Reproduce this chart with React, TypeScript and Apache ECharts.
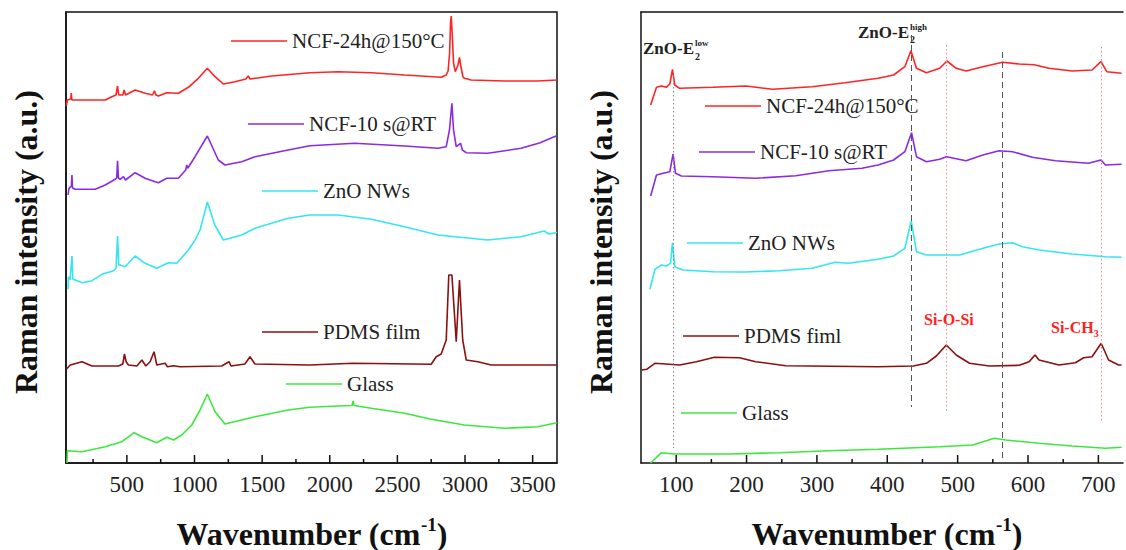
import React, { useEffect, useRef } from "react";
import * as echarts from "echarts";

// ---------- DATA (wavenumber, intensity a.u.) ----------
const L_NCF24: [number, number][] = [
  [52, 357], [60, 363], [85, 364], [89, 370], [93, 363], [200, 363], [340, 363], [389, 366.3], [420, 368],
  [431, 377], [440, 368], [470, 368], [480, 373], [490, 368], [561, 373], [635, 369.7], [690, 368], [704, 372.3],
  [715, 368], [733, 367], [795, 370.3], [881, 369.7], [955, 375.7], [1028, 384.7], [1095, 394.7], [1152, 386.3],
  [1213, 379], [1299, 381.3], [1380, 384], [1397, 387], [1410, 384], [1570, 387], [1853, 390.3], [2061, 391.3],
  [2308, 390.3], [2553, 388], [2824, 385.7], [2861, 388], [2875, 392], [2886, 410], [2893, 440], [2898, 447],
  [2905, 430], [2915, 400], [2928, 391.3], [2948, 398], [2959, 405.7], [2970, 396], [2985, 386], [2996, 384.7],
  [3045, 383], [3291, 382], [3537, 382], [3680, 383],
];
const L_NCF10: [number, number][] = [
  [65, 268], [72, 274.7], [90, 277], [94, 288], [98, 275], [119, 273.7], [266, 273.7], [340, 278], [414, 283.7],
  [425, 285], [431, 302.3], [438, 285], [451, 283.7], [475, 286.3], [490, 283], [561, 290.3], [635, 284.7],
  [709, 281.3], [733, 280.3], [795, 284.7], [881, 284.7], [935, 293], [943, 298], [950, 294.7], [1004, 306.3],
  [1095, 327], [1176, 303], [1225, 298], [1349, 301.3], [1447, 306.3], [1692, 313], [1853, 317.3], [2184, 319.7],
  [2553, 317], [2799, 314.7], [2861, 316.3], [2885, 333], [2903, 359.7], [2915, 333], [2935, 316.3], [2967, 319.7],
  [2980, 313], [3009, 310.3], [3168, 309.7], [3414, 314.7], [3550, 320], [3673, 327],
];
const L_ZNO: [number, number][] = [
  [65, 173.7], [68, 186.3], [80, 183], [94, 207], [100, 184], [119, 183], [168, 180.3], [242, 182.3], [316, 188.7],
  [401, 192.3], [420, 195], [431, 227], [440, 198], [451, 198], [487, 196.3], [561, 207], [635, 199.7], [721, 194.7],
  [807, 200.3], [869, 199.7], [955, 213], [1004, 223], [1041, 233], [1095, 261], [1150, 238], [1213, 223],
  [1349, 228], [1447, 234.7], [1692, 244.7], [1853, 248], [2061, 248], [2308, 243.7], [2553, 236.3], [2799, 228],
  [3168, 223], [3414, 226.3], [3586, 232], [3620, 229], [3680, 230.5],
];
const L_PDMS: [number, number][] = [
  [52, 93.7], [82, 98], [168, 101.3], [242, 97], [438, 97], [470, 99], [482, 109], [495, 101], [512, 98], [574, 97],
  [611, 103], [640, 97], [672, 101.3], [701, 111.3], [721, 98], [783, 99.7], [800, 96.3], [844, 97.3], [893, 96.3],
  [1201, 97], [1255, 101.3], [1270, 97], [1373, 99], [1410, 106.3], [1447, 99], [1853, 98], [2172, 99.7],
  [2750, 98.7], [2787, 106.3], [2824, 109], [2861, 123], [2880, 188], [2903, 188], [2935, 121.3], [2959, 183],
  [2983, 123], [3009, 103], [3095, 101.3], [3193, 98], [3680, 98],
];
const L_GLASS: [number, number][] = [
  [57, 0], [60, 12.3], [168, 11.3], [340, 16.3], [463, 21.3], [554, 30.3], [611, 26.3], [721, 20.3], [795, 25.7],
  [844, 23], [906, 28], [980, 38], [1041, 53], [1095, 69], [1152, 51.3], [1225, 39], [1447, 46.3], [1692, 53],
  [1853, 55.7], [2061, 57], [2165, 57.5], [2172, 62], [2180, 57.5], [2308, 54.7], [2553, 49.7], [2750, 43.7],
  [2996, 38], [3291, 34.7], [3537, 36.3], [3680, 40.3],
];

const R_NCF24: [number, number][] = [
  [63.7, 358], [72, 375.7], [79, 377], [86, 375.7], [91, 379], [94.7, 393.7], [98, 378], [105, 374.7], [152, 375.7],
  [199, 377], [237, 373.7], [293, 376.3], [340, 380.3], [387, 384.7], [409, 388], [425, 396.3], [433.6, 412.3],
  [441.5, 394.7], [455.6, 390.3], [474.5, 394.7], [484.8, 402], [498, 394.7], [512, 392], [535.7, 396.3],
  [564, 400.7], [587.5, 399], [608.7, 398.3], [629.8, 394.7], [662.7, 392], [691, 393], [703.7, 401.3],
  [712, 391.3], [733, 389.7],
];
const R_NCF10: [number, number][] = [
  [63.7, 267], [72, 288], [81.5, 289.7], [91, 291.3], [95.6, 309], [99, 289.7], [107.5, 287], [152, 286.3],
  [213, 284.7], [270, 287.3], [317, 292.3], [364, 294.7], [387, 298], [409, 303], [425, 311.3], [434.5, 330.3],
  [441.5, 306.3], [455.6, 301.3], [474.5, 303.7], [484, 306.3], [512, 302.3], [535.7, 308], [559, 312.3],
  [578, 311.3], [606, 305.7], [639, 302.3], [686, 299.7], [703.7, 303], [710, 298], [733, 298.7],
];
const R_ZNO: [number, number][] = [
  [62.7, 173.7], [69.8, 193.7], [79, 198], [86, 197], [92, 199.7], [94.7, 220.3], [98, 196.3], [109.7, 193],
  [152, 191.3], [199, 191], [246, 192.3], [293, 194.7], [326, 200.7], [345, 199.7], [387, 203.7], [409, 207],
  [425, 214.7], [434, 242.3], [441.5, 211.3], [455.6, 208], [502.8, 208], [531, 213.7], [559, 219], [578, 220.3],
  [592, 216.3], [615.7, 213], [662.7, 209], [710, 206.3], [733, 205.7],
];
const R_PDMS: [number, number][] = [
  [51, 93], [58, 93.7], [69.8, 99.7], [105, 98], [128.6, 101.3], [154.5, 105.7], [190, 105.3], [213, 101.3],
  [255.7, 97.3], [387, 96.3], [437, 97], [455.6, 99.7], [469.7, 107], [483.9, 118], [498, 108], [516.9, 99.7],
  [545, 97], [587.5, 97.7], [601.6, 101.3], [610, 108], [615.7, 103], [644, 98], [667.4, 100.3], [679, 105.3],
  [691, 106.3], [704, 119.7], [714.5, 103], [728.7, 98], [733, 98],
];
const R_GLASS: [number, number][] = [
  [63.7, 0], [79, 10.3], [97, 9], [175.6, 9], [246, 10.3], [317, 12.3], [387, 13.7], [474.5, 16.3], [521.5, 18],
  [552, 24.7], [568.6, 23], [615.7, 19.7], [662.7, 17], [710, 14.7], [733, 15.7],
];

// reference lines on the right panel
const REF_X = [95.6, 434, 484, 564, 704];
const REF_TOP = [388, 428, 418, 411, 416];
const REF_BOTTOM = [15, 56, 50, 0, 41];
const REF_KIND = ["grayDot", "dash", "pinkDot", "dash", "pinkDot"];

// axis ticks
const L_MAJOR = [500, 1000, 1500, 2000, 2500, 3000, 3500];
const L_MINOR = [250, 750, 1250, 1750, 2250, 2750, 3250];
const R_MAJOR = [100, 200, 300, 400, 500, 600, 700];
const R_MINOR = [150, 250, 350, 450, 550, 650];

const NAMES = ["NCF-24h@150°C", "NCF-10 s@RT", "ZnO NWs", "PDMS film", "Glass"];
const R_NAMES = ["NCF-24h@150°C", "NCF-10 s@RT", "ZnO NWs", "PDMS fiml", "Glass"];
const COLORS = ["#ff2424", "#8a2be2", "#33e6f0", "#8b1010", "#3de83d"];

const FAM = '"Liberation Serif", "Times New Roman", serif';

function measure(text: string, font: string): number {
  const ctx = document.createElement("canvas").getContext("2d");
  if (!ctx) return text.length * 8;
  ctx.font = font;
  return ctx.measureText(text).width;
}

export default function App() {
  const ref = useRef<HTMLDivElement>(null);
  useEffect(() => {
    if (!ref.current) return;
    const chart = echarts.init(ref.current, undefined, { renderer: "svg" });

    const lineSeries = (name: string, data: [number, number][], color: string, xi: number, yi: number, extra: any = {}) => ({
      type: "line",
      name,
      data,
      xAxisIndex: xi,
      yAxisIndex: yi,
      symbol: "none",
      showSymbol: false,
      silent: true,
      lineStyle: { color, width: 1.6 },
      itemStyle: { color },
      z: 3,
      ...extra,
    });

    const tickSeries = (vals: number[], len: number, xi: number, yi: number) => ({
      type: "custom",
      name: "ticks" + xi + "-" + len,
      coordinateSystem: "cartesian2d",
      xAxisIndex: xi,
      yAxisIndex: yi,
      silent: true,
      data: vals.map((v) => [v, 0]),
      encode: { x: 0, y: 1 },
      renderItem: (_p: any, api: any) => {
        const pt = api.coord([api.value(0), 0]);
        return {
          type: "line",
          shape: { x1: pt[0], y1: pt[1], x2: pt[0], y2: pt[1] - len },
          style: { stroke: "#111", lineWidth: 1.5 },
        };
      },
      z: 5,
    });

    const refStyle = (k: string) =>
      k === "dash"
        ? { color: "#555", type: [6, 4], width: 1 }
        : k === "pinkDot"
        ? { color: "#f08080", type: [1.5, 2.5], width: 1 }
        : { color: "#888", type: [1.5, 2.5], width: 1 };

    const markData = REF_X.map((x, i) => [
      { coord: [x, REF_TOP[i]], lineStyle: refStyle(REF_KIND[i]) },
      { coord: [x, REF_BOTTOM[i]] },
    ]);

    const lData = [L_NCF24, L_NCF10, L_ZNO, L_PDMS, L_GLASS];
    const rData = [R_NCF24, R_NCF10, R_ZNO, R_PDMS, R_GLASS];

    const series: any[] = [];
    lData.forEach((d, i) => series.push(lineSeries(NAMES[i], d, COLORS[i], 0, 0)));
    rData.forEach((d, i) =>
      series.push(
        lineSeries(R_NAMES[i], d, COLORS[i], 1, 1,
          i === 4
            ? { markLine: { silent: true, symbol: ["none", "none"], label: { show: false }, animation: false, data: markData } }
            : {})
      )
    );
    series.push(tickSeries(L_MAJOR, 8, 0, 0));
    series.push(tickSeries(L_MINOR, 4, 0, 0));
    series.push(tickSeries(R_MAJOR, 8, 1, 1));
    series.push(tickSeries(R_MINOR, 4, 1, 1));

    const legendPos = [
      { name: NAMES[0], left: 231, top: 29 },
      { name: NAMES[1], left: 248, top: 112 },
      { name: NAMES[2], left: 262, top: 179 },
      { name: NAMES[3], left: 262, top: 320 },
      { name: NAMES[4], left: 286, top: 372 },
      { name: R_NAMES[0], left: 705, top: 94 },
      { name: R_NAMES[1], left: 699, top: 140 },
      { name: R_NAMES[2], left: 687, top: 231 },
      { name: R_NAMES[3], left: 683, top: 324 },
      { name: R_NAMES[4], left: 681, top: 401 },
    ];

    const legend = legendPos.map((l) => ({
      data: [l.name],
      left: l.left,
      top: l.top,
      padding: 0,
      icon: "rect",
      itemWidth: 56,
      itemHeight: 1.6,
      selectedMode: false,
      textStyle: { fontFamily: FAM, fontSize: 21, color: "#222", lineHeight: 24 },
    }));

    const axisLine = { show: true, lineStyle: { color: "#111", width: 1.5 } };
    const baseX = {
      type: "value",
      axisLine,
      axisTick: { show: false },
      splitLine: { show: false },
    };
    const labelStyle = { fontFamily: FAM, fontSize: 23, color: "#222", margin: 10 };

    const bigFont = `bold 32px ${FAM}`;
    const supFont = `bold 19px ${FAM}`;
    const xTitle = (cx: number) => {
      const wA = measure("Wavenumber (cm", bigFont);
      const wS = measure("-1", supFont);
      const wC = measure(")", bigFont);
      const x0 = cx - (wA + wS + wC) / 2;
      const cy = 533.5;
      return {
        type: "group",
        children: [
          { type: "text", x: x0, y: cy, style: { text: "Wavenumber (cm", font: bigFont, fill: "#111", align: "left", verticalAlign: "middle" } },
          { type: "text", x: x0 + wA, y: cy - 9, style: { text: "-1", font: supFont, fill: "#111", align: "left", verticalAlign: "middle" } },
          { type: "text", x: x0 + wA + wS, y: cy, style: { text: ")", font: bigFont, fill: "#111", align: "left", verticalAlign: "middle" } },
        ],
      };
    };
    const yTitle = (cx: number) => ({
      type: "text",
      x: cx,
      y: 242,
      rotation: Math.PI / 2,
      style: {
        text: "Raman intensity (a.u.)",
        align: "center",
        verticalAlign: "middle",
        fill: "#111",
        font: `bold 32px ${FAM}`,
      },
    });
    const t = (text: string, x: number, y: number, size: number, color = "#222") => ({
      type: "text",
      x,
      y,
      style: { text, align: "left", verticalAlign: "middle", fill: color, font: `bold ${size}px ${FAM}` },
    });
    const e2 = (x: number, y: number, sup: string) => {
      const w = measure("ZnO-E", `bold 17px ${FAM}`);
      return {
        type: "group",
        children: [t("ZnO-E", x, y, 17), t(sup, x + w + 1, y - 5.5, 9), t("2", x + w + 1, y + 7.5, 10)],
      };
    };
    const siCH3 = (x: number, y: number) => {
      const w = measure("Si-CH", `bold 16px ${FAM}`);
      return { type: "group", children: [t("Si-CH", x, y, 16, "#ff2020"), t("3", x + w, y + 5.5, 10, "#ff2020")] };
    };

    chart.setOption({
      animation: false,
      backgroundColor: "#fff",
      grid: [
        { left: 66, top: 12, width: 491, height: 451, show: true, borderColor: "#111", borderWidth: 1.5 },
        { left: 641, top: 12, right: 0, height: 451 },
      ],
      xAxis: [
        {
          ...baseX,
          gridIndex: 0,
          min: 50,
          max: 3680,
          interval: 50,
          axisLabel: { ...labelStyle, formatter: (v: number) => (v % 500 === 0 ? String(v) : "") },
        },
        {
          ...baseX,
          gridIndex: 1,
          min: 50,
          max: 735,
          interval: 50,
          axisLabel: { ...labelStyle, formatter: (v: number) => (v % 100 === 0 ? String(v) : "") },
        },
        { ...baseX, gridIndex: 1, position: "top", min: 50, max: 735, axisLabel: { show: false } },
      ],
      yAxis: [
        { type: "value", gridIndex: 0, min: 0, max: 451, axisLine, axisTick: { show: false }, axisLabel: { show: false }, splitLine: { show: false } },
        { type: "value", gridIndex: 1, min: 0, max: 451, axisLine, axisTick: { show: false }, axisLabel: { show: false }, splitLine: { show: false } },
      ],
      legend,
      series,
      graphic: [
        xTitle(312),
        xTitle(887),
        yTitle(26),
        yTitle(601),
        e2(643, 48.7, "low"),
        e2(858, 32, "high"),
        t("Si-O-Si", 924, 319.5, 16, "#ff2020"),
        siCH3(1051, 327.5),
      ],
    });
    return () => chart.dispose();
  }, []);
  return <div ref={ref} style={{ position: "absolute", left: 0, top: 0, width: 1126, height: 550 }} />;
}
